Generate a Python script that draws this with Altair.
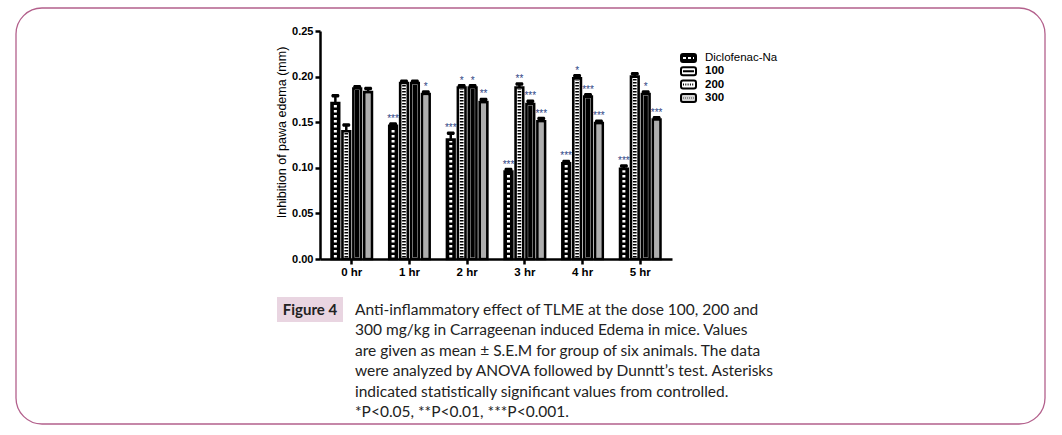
import altair as alt
import pandas as pd

times = ["0 hr", "1 hr", "2 hr", "3 hr", "4 hr", "5 hr"]
series = ["Diclofenac-Na", "100", "200", "300"]

diclofenac = [0.171, 0.146, 0.131, 0.096, 0.105, 0.099]
dose100 = [0.140, 0.193, 0.188, 0.188, 0.198, 0.200]
dose200 = [0.187, 0.193, 0.188, 0.170, 0.178, 0.181]
dose300 = [0.183, 0.181, 0.172, 0.151, 0.149, 0.153]

sem_dic = [0.008, 0.002, 0.007, 0.002, 0.002, 0.003]
sem_100 = [0.007, 0.002, 0.002, 0.004, 0.003, 0.003]
sem_200 = [0.002, 0.002, 0.002, 0.003, 0.002, 0.002]
sem_300 = [0.004, 0.002, 0.003, 0.003, 0.002, 0.002]

sig_dic = ["", "***", "***", "***", "***", "***"]
sig_100 = ["", "", "*", "**", "*", ""]
sig_200 = ["", "", "*", "***", "***", "*"]
sig_300 = ["", "*", "**", "***", "***", "***"]

y_ticks = [0.0, 0.05, 0.10, 0.15, 0.20, 0.25]
y_title = "Inhibition of pawa edema (mm)"

figure_label = "Figure 4"
caption_lines = [
    "Anti-inflammatory effect of TLME at the dose 100, 200 and",
    "300 mg/kg in Carrageenan induced Edema in mice. Values",
    "are given as mean \u00b1 S.E.M for group of six animals. The data",
    "were analyzed by ANOVA followed by Dunntt\u2019s test. Asterisks",
    "indicated statistically significant values from controlled.",
    "*P<0.05, **P<0.01, ***P<0.001.",
]

# ---------- build tables ----------
rows = []
for s, vals, sems, sigs in zip(series,
                               [diclofenac, dose100, dose200, dose300],
                               [sem_dic, sem_100, sem_200, sem_300],
                               [sig_dic, sig_100, sig_200, sig_300]):
    for t, v, e, g in zip(times, vals, sems, sigs):
        rows.append({"time": t, "series": s, "value": v, "sem": e, "sig": g})
df = pd.DataFrame(rows)

legend_df = pd.DataFrame({"series": series, "idx": list(range(len(series)))})
caption_df = pd.DataFrame({"line": caption_lines, "idx": list(range(len(caption_lines)))})
one = pd.DataFrame({"a": [0]})

W, H = 352, 228
FONT = "Liberation Sans"

x_enc = alt.X("time:N", sort=times,
              scale=alt.Scale(domain=times, paddingInner=0.3, paddingOuter=0.2),
              axis=alt.Axis(title=None, labelAngle=0, labelPadding=2, labelFontSize=11.5))
xo_enc = alt.XOffset("series:N", sort=series,
                     scale=alt.Scale(domain=series, paddingInner=0.3, paddingOuter=0))
y_scale = alt.Scale(domain=[0, 0.25], nice=False, zero=True)

base = alt.Chart(df).transform_calculate(
    top="datum.value + datum.sem",
    lo="0.0017",
    hi="datum.value - 0.0017",
)

fill_scale = alt.Scale(domain=series, range=["black", "white", "white", "#d2d2d2"])
stroke_scale = alt.Scale(domain=series, range=["white", "black", "black", "#8a8a8a"])

bars = base.mark_bar(stroke="black", strokeWidth=2.6).encode(
    x=x_enc,
    xOffset=xo_enc,
    y=alt.Y("value:Q", scale=y_scale,
            axis=alt.Axis(values=y_ticks, format=".2f", title=y_title, titlePadding=3,
                          titleFontSize=12.5, titleY=101)),
    fill=alt.Fill("series:N", scale=fill_scale, legend=None),
)

patterns = base.mark_rule().encode(
    x=x_enc,
    xOffset=xo_enc,
    y=alt.Y("lo:Q", scale=y_scale),
    y2="hi:Q",
    stroke=alt.Stroke("series:N", scale=stroke_scale, legend=None),
    strokeWidth=alt.StrokeWidth("series:N", scale=alt.Scale(domain=series, range=[3, 5, 1.5, 5]), legend=None),
    strokeDash=alt.StrokeDash("series:N", scale=alt.Scale(domain=series, range=[[2.5, 2.5], [1.5, 1.5], [1, 0], [1, 1]]), legend=None),
)

err = base.mark_rule(color="black", strokeWidth=2.5).encode(
    x=x_enc, xOffset=xo_enc,
    y=alt.Y("value:Q", scale=y_scale), y2="top:Q",
)
caps = base.mark_tick(color="black", thickness=3.5, size=8, opacity=1, cornerRadius=1.5).encode(
    x=x_enc, xOffset=xo_enc,
    y=alt.Y("top:Q", scale=y_scale),
)
stars = base.transform_filter("datum.sig != ''").mark_text(
    fontSize=10, baseline="bottom", dy=0, color="#2e4585", font=FONT
).encode(
    x=x_enc, xOffset=xo_enc,
    y=alt.Y("top:Q", scale=y_scale),
    text="sig:N",
)

# ---------- legend ----------
leg = alt.Chart(legend_df).transform_calculate(
    ly="27 + datum.idx * 13.3",
    ly1="27 + datum.idx * 13.3 - 4",
    ly2="27 + datum.idx * 13.3 + 4",
)
leg_box = leg.mark_rect(stroke="black", strokeWidth=2, cornerRadius=2).encode(
    x=alt.value(361), x2=alt.value(376),
    y=alt.Y("ly1:Q", scale=None), y2="ly2:Q",
    fill=alt.Fill("series:N", scale=fill_scale, legend=None),
)
leg_pat = leg.mark_rule().encode(
    x=alt.value(363), x2=alt.value(374),
    y=alt.Y("ly:Q", scale=None),
    stroke=alt.Stroke("series:N", scale=stroke_scale, legend=None),
    strokeWidth=alt.StrokeWidth("series:N", scale=alt.Scale(domain=series, range=[2, 2, 5, 5]), legend=None),
    strokeDash=alt.StrokeDash("series:N", scale=alt.Scale(domain=series, range=[[3, 2], [1, 0], [1, 1.3], [1, 1]]), legend=None),
)
leg_txt_n = leg.transform_filter("datum.idx == 0").mark_text(
    align="left", baseline="middle", font=FONT, fontSize=11.5, color="black"
).encode(x=alt.value(385), y=alt.Y("ly:Q", scale=None), text="series:N")
leg_txt_b = leg.transform_filter("datum.idx > 0").mark_text(
    align="left", baseline="middle", font=FONT, fontSize=11.5, fontWeight="bold", color="black"
).encode(x=alt.value(385), y=alt.Y("ly:Q", scale=None), text="series:N")

# ---------- frame & caption ----------
frame = alt.Chart(one).mark_rect(
    fillOpacity=0, stroke="#b3608c", strokeWidth=1.3, cornerRadius=26
).encode(x=alt.value(-304), x2=alt.value(725), y=alt.value(-23), y2=alt.value(393))

fig_box = alt.Chart(one).mark_rect(fill="#e9d5e1").encode(
    x=alt.value(-43), x2=alt.value(23), y=alt.value(266), y2=alt.value(291)
)
fig_txt = alt.Chart(one).mark_text(
    text=figure_label, font="Lato", fontSize=15, fontWeight="bold", color="#222222",
    align="center", baseline="middle"
).encode(x=alt.value(-10), y=alt.value(279))

cap_txt = alt.Chart(caption_df).transform_calculate(
    cy="279 + datum.idx * 20.4"
).mark_text(
    align="left", baseline="middle", font="Lato", fontSize=15.5, color="#222222"
).encode(x=alt.value(35), y=alt.Y("cy:Q", scale=None), text="line:N")

chart = alt.layer(
    frame, fig_box, fig_txt, cap_txt,
    bars, patterns, err, caps, stars,
    leg_box, leg_pat, leg_txt_n, leg_txt_b,
).resolve_scale(
    strokeWidth="independent", strokeDash="independent"
).properties(
    width=W, height=H,
    autosize=alt.AutoSizeParams(type="none"),
    padding={"left": 320, "top": 31, "right": 1062 - 320 - W, "bottom": 435 - 31 - H},
    background="white",
).configure_axis(
    domainColor="black", domainWidth=2.5, tickColor="black", tickWidth=2.5, tickSize=5,
    labelFont=FONT, labelFontWeight="bold", labelFontSize=11, labelColor="black",
    titleFont=FONT, titleFontSize=11, titleFontWeight="normal", titleColor="black",
    grid=False,
).configure_view(stroke=None)

chart.save("out.html", embed_options={"renderer": "svg", "actions": False})
